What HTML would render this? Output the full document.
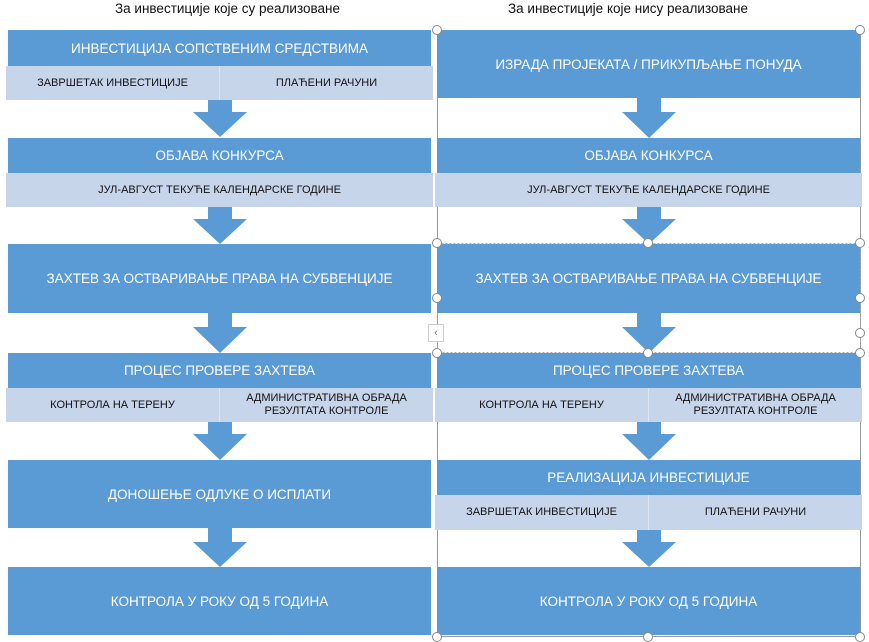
<!DOCTYPE html>
<html><head><meta charset="utf-8"><style>
body{margin:0;width:869px;height:642px;background:#fff;position:relative;overflow:hidden;font-family:"Liberation Sans","DejaVu Sans",sans-serif}
.h{position:absolute;background:#5B9BD5;color:#fff;display:flex;align-items:center;justify-content:center;font-size:13.5px}
.s{position:absolute;background:#C7D5EB;color:#111;display:flex;font-size:11px}
.s div{flex:1;display:flex;align-items:center;justify-content:center;text-align:center;line-height:13px}
.s div+div{border-left:1px solid #DCE5F3}
.t{position:absolute;top:1px;font-size:13.5px;color:#111}
.c{position:absolute;width:8px;height:8px;border:1px solid #888;border-radius:50%;background:#fff}
svg{position:absolute;left:0;top:0}
</style></head><body>
<div class="t" style="left:115px">За инвестиције које су реализоване</div>
<div class="t" style="left:508px">За инвестиције које нису реализоване</div>

<svg width="869" height="642">
<g fill="#5B9BD5">
<path d="M208 100h24v12h15l-27 25l-27-25h15z"/>
<path d="M208 207h24v12h15l-27 25l-27-25h15z"/>
<path d="M208 313h24v14h15l-27 26l-27-26h15z"/>
<path d="M208 422h24v12h15l-27 26l-27-26h15z"/>
<path d="M208 528h24v14h15l-27 25l-27-25h15z"/>
<path d="M637 98h24v14h15l-27 26l-27-26h15z"/>
<path d="M637 207h24v12h15l-27 25l-27-25h15z"/>
<path d="M637 313h24v14h15l-27 26l-27-26h15z"/>
<path d="M637 422h24v12h15l-27 26l-27-26h15z"/>
<path d="M637 530h24v12h15l-27 25l-27-25h15z"/>
</g>
<rect x="437.5" y="30.5" width="423" height="606" fill="none" stroke="#999" stroke-width="1"/>
<rect x="437.5" y="243.5" width="423" height="109" fill="none" stroke="#aaa" stroke-dasharray="2,2"/>
</svg>

<div class="h" style="left:8px;top:30px;width:423px;height:36px">ИНВЕСТИЦИЈА СОПСТВЕНИМ СРЕДСТВИМА</div>
<div class="s" style="left:6px;top:66px;width:427px;height:34px"><div>ЗАВРШЕТАК ИНВЕСТИЦИЈЕ</div><div>ПЛАЋЕНИ РАЧУНИ</div></div>
<div class="h" style="left:8px;top:138px;width:423px;height:35px">ОБЈАВА КОНКУРСА</div>
<div class="s" style="left:6px;top:173px;width:427px;height:34px"><div>ЈУЛ-АВГУСТ ТЕКУЋЕ КАЛЕНДАРСКЕ ГОДИНЕ</div></div>
<div class="h" style="left:8px;top:244px;width:423px;height:69px">ЗАХТЕВ ЗА ОСТВАРИВАЊЕ ПРАВА НА СУБВЕНЦИЈЕ</div>
<div class="h" style="left:8px;top:353px;width:423px;height:35px">ПРОЦЕС ПРОВЕРЕ ЗАХТЕВА</div>
<div class="s" style="left:6px;top:388px;width:427px;height:34px"><div>КОНТРОЛА НА ТЕРЕНУ</div><div>АДМИНИСТРАТИВНА ОБРАДА<br>РЕЗУЛТАТА КОНТРОЛЕ</div></div>
<div class="h" style="left:8px;top:460px;width:423px;height:68px">ДОНОШЕЊЕ ОДЛУКЕ О ИСПЛАТИ</div>
<div class="h" style="left:8px;top:567px;width:423px;height:68px">КОНТРОЛА У РОКУ ОД 5 ГОДИНА</div>

<div class="h" style="left:437px;top:30px;width:423px;height:68px">ИЗРАДА ПРОЈЕКАТА / ПРИКУПЉАЊЕ ПОНУДА</div>
<div class="h" style="left:437px;top:138px;width:423px;height:35px">ОБЈАВА КОНКУРСА</div>
<div class="s" style="left:435px;top:173px;width:427px;height:34px"><div>ЈУЛ-АВГУСТ ТЕКУЋЕ КАЛЕНДАРСКЕ ГОДИНЕ</div></div>
<div class="h" style="left:437px;top:244px;width:423px;height:69px">ЗАХТЕВ ЗА ОСТВАРИВАЊЕ ПРАВА НА СУБВЕНЦИЈЕ</div>
<div class="h" style="left:437px;top:353px;width:423px;height:35px">ПРОЦЕС ПРОВЕРЕ ЗАХТЕВА</div>
<div class="s" style="left:435px;top:388px;width:427px;height:34px"><div>КОНТРОЛА НА ТЕРЕНУ</div><div>АДМИНИСТРАТИВНА ОБРАДА<br>РЕЗУЛТАТА КОНТРОЛЕ</div></div>
<div class="h" style="left:437px;top:460px;width:423px;height:35px">РЕАЛИЗАЦИЈА ИНВЕСТИЦИЈЕ</div>
<div class="s" style="left:435px;top:495px;width:427px;height:35px"><div>ЗАВРШЕТАК ИНВЕСТИЦИЈЕ</div><div>ПЛАЋЕНИ РАЧУНИ</div></div>
<div class="h" style="left:437px;top:567px;width:423px;height:68px">КОНТРОЛА У РОКУ ОД 5 ГОДИНА</div>

<div class="c" style="left:432px;top:25px"></div><div class="c" style="left:855px;top:25px"></div>
<div class="c" style="left:432px;top:238px"></div><div class="c" style="left:643px;top:238px"></div><div class="c" style="left:855px;top:238px"></div>
<div class="c" style="left:432px;top:293px"></div><div class="c" style="left:855px;top:293px"></div>
<div class="c" style="left:855px;top:328px"></div>
<div class="c" style="left:432px;top:348px"></div><div class="c" style="left:643px;top:348px"></div><div class="c" style="left:855px;top:348px"></div>
<div class="c" style="left:432px;top:632px"></div><div class="c" style="left:643px;top:632px"></div><div class="c" style="left:855px;top:632px"></div>
<div style="position:absolute;left:428px;top:324px;width:14px;height:16px;border:1px solid #ccc;background:#fff;font-size:11px;color:#777;text-align:center;line-height:16px">&lsaquo;</div>
</body></html>
